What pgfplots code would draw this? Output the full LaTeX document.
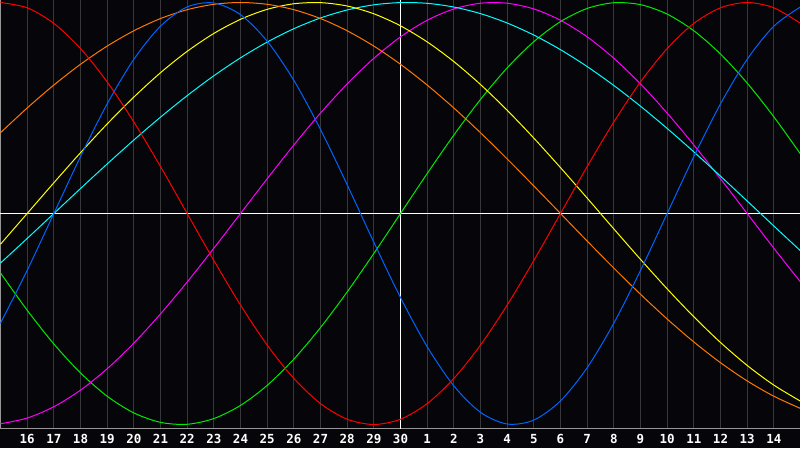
\documentclass[border=0pt]{standalone}
\usepackage{pgfplots}
\pgfplotsset{compat=1.18}
\usepackage{pgfplotstable}
\usepackage{fontspec}
\newfontfamily\labfont{DejaVu Sans Mono}
\definecolor{bg}{RGB}{5,5,10}
\definecolor{gridc}{RGB}{55,55,58}
\definecolor{framec}{RGB}{150,150,150}
\definecolor{cred}{RGB}{255,0,0}
\definecolor{cgreen}{RGB}{0,235,0}
\definecolor{cblue}{RGB}{0,100,255}
\definecolor{cmag}{RGB}{255,0,255}
\definecolor{ccyan}{RGB}{0,255,255}
\definecolor{cyel}{RGB}{255,255,0}
\definecolor{corange}{RGB}{255,120,0}
\pgfplotstableread{
t  blue    red     green   mag     cyan    yel     orange
0  -0.5196 1.0000  -0.2817 -0.9966 -0.2349 -0.1456 0.3827
1  -0.2698 0.9749  -0.4582 -0.9694 -0.1183 0.0000  0.5000
2  0.0000  0.9010  -0.6182 -0.9158 0.0000  0.1456  0.6088
3  0.2698  0.7818  -0.7557 -0.8372 0.1183  0.2881  0.7071
4  0.5196  0.6235  -0.8660 -0.7357 0.2349  0.4245  0.7934
5  0.7308  0.4339  -0.9450 -0.6142 0.3482  0.5517  0.8660
6  0.8879  0.2225  -0.9898 -0.4759 0.4566  0.6672  0.9239
7  0.9791  0.0000  -0.9989 -0.3247 0.5586  0.7685  0.9659
8  0.9977  -0.2225 -0.9718 -0.1646 0.6528  0.8533  0.9914
9  0.9423  -0.4339 -0.9096 0.0000  0.7378  0.9203  1.0000
10 0.8170  -0.6235 -0.8146 0.1646  0.8125  0.9675  0.9914
11 0.6311  -0.7818 -0.6901 0.3247  0.8758  0.9940  0.9659
12 0.3984  -0.9010 -0.5406 0.4759  0.9267  0.9993  0.9239
13 0.1362  -0.9749 -0.3717 0.6142  0.9646  0.9834  0.8660
14 -0.1362 -1.0000 -0.1893 0.7357  0.9890  0.9465  0.7934
15 -0.3984 -0.9749 0.0000  0.8372  0.9996  0.8894  0.7071
16 -0.6311 -0.9010 0.1893  0.9158  0.9961  0.8133  0.6088
17 -0.8170 -0.7818 0.3717  0.9694  0.9785  0.7200  0.5000
18 -0.9423 -0.6235 0.5406  0.9966  0.9473  0.6113  0.3827
19 -0.9977 -0.4339 0.6901  0.9966  0.9028  0.4895  0.2588
20 -0.9791 -0.2225 0.8146  0.9694  0.8456  0.3572  0.1305
21 -0.8879 0.0000  0.9096  0.9158  0.7764  0.2174  0.0000
22 -0.7308 0.2225  0.9718  0.8372  0.6964  0.0730  -0.1305
23 -0.5196 0.4339  0.9989  0.7357  0.6067  -0.0730 -0.2588
24 -0.2698 0.6235  0.9898  0.6142  0.5085  -0.2174 -0.3827
25 0.0000  0.7818  0.9450  0.4759  0.4031  -0.3572 -0.5000
26 0.2698  0.9010  0.8660  0.3247  0.2921  -0.4895 -0.6088
27 0.5196  0.9749  0.7557  0.1646  0.1769  -0.6113 -0.7071
28 0.7308  1.0000  0.6182  0.0000  0.0592  -0.7200 -0.7934
29 0.8879  0.9749  0.4582  -0.1646 -0.0592 -0.8133 -0.8660
30 0.9791  0.9010  0.2817  -0.3247 -0.1769 -0.8894 -0.9239
}\bio
\begin{document}
\begin{tikzpicture}
\fill[bg] (0,-20pt) rectangle (800pt,428pt);
\begin{axis}[
  at={(0,0)}, anchor=south west,
  scale only axis, width=800pt, height=428pt,
  xmin=-0.01875, xmax=29.98125, ymin=-1.01659, ymax=1.01185,
  axis line style={draw=framec, line width=1pt},
  axis background/.style={fill=bg},
  xtick={1,...,29},
  xticklabels={16,17,18,19,20,21,22,23,24,25,26,27,28,29,30,1,2,3,4,5,6,7,8,9,10,11,12,13,14},
  ytick=\empty,
  major tick length=0pt,
  xmajorgrids,
  grid style={draw=gridc, line width=1pt},
  xticklabel style={font=\labfont\bfseries\fontsize{12.5}{12.5}\selectfont, text=white, anchor=north, yshift=-2.5pt},
  every tick/.style={draw=none},
  clip=true,
]
\addplot[white, line width=1pt] coordinates {(15,-1.03) (15,1.02)};
\addplot[white, line width=1pt] coordinates {(-0.1,0) (30.1,0)};
\addplot[cgreen, line width=1pt, smooth] table[x=t, y=green] {\bio};
\addplot[cmag, line width=1pt, smooth] table[x=t, y=mag] {\bio};
\addplot[ccyan, line width=1pt, smooth] table[x=t, y=cyan] {\bio};
\addplot[cyel, line width=1pt, smooth] table[x=t, y=yel] {\bio};
\addplot[corange, line width=1pt, smooth] table[x=t, y=orange] {\bio};
\addplot[cblue, line width=1pt, smooth] table[x=t, y=blue] {\bio};
\addplot[cred, line width=1pt, smooth] table[x=t, y=red] {\bio};
\end{axis}
\pgfresetboundingbox
\path[use as bounding box] (0,-20pt) rectangle (800pt,428pt);
\end{tikzpicture}
\end{document}
